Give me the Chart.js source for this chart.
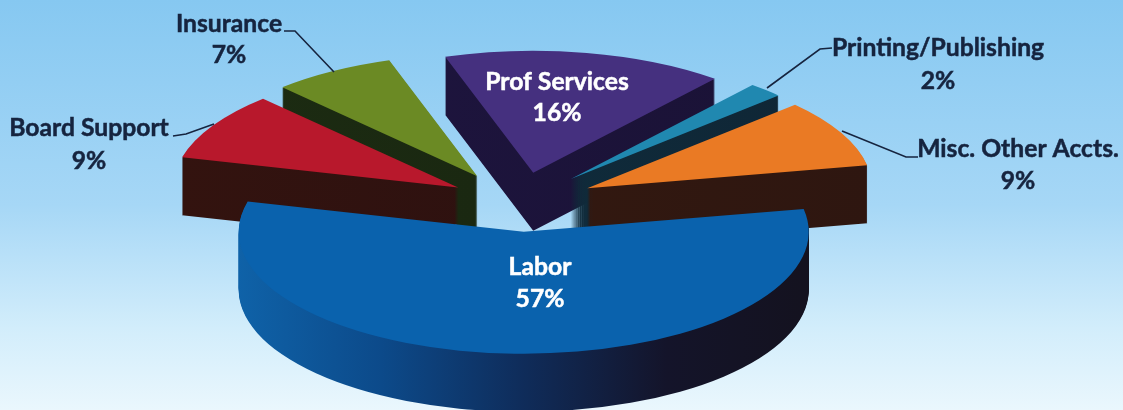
<!DOCTYPE html>
<html>
<head>
<meta charset="utf-8">
<title>Expense pie</title>
<script src="https://cdn.jsdelivr.net/npm/chart.js@4"></script>
<style>
  html, body { margin: 0; padding: 0; }
  body { width: 1123px; height: 410px; overflow: hidden; background: linear-gradient(180deg, #86c8f1 0%, #a6d7f6 50%, #d2edfb 80%, #eaf7fd 100%); }
  #wrap { position: relative; width: 1123px; height: 410px; }
</style>
</head>
<body>
<div id="wrap"><canvas id="pie"></canvas></div>
<script>
const categories = ['Prof Services', 'Printing/Publishing', 'Misc. Other Accts.', 'Labor', 'Board Support', 'Insurance'];
const shares = [16, 2, 9, 57, 9, 7];
const topColors = ['#45307f', '#2088b0', '#ea7a24', '#0a62ad', '#b8182c', '#6b8a24'];
const wallColors = [['#1e1540', '#1a1235'], ['#10303f', '#0f2535'], ['#351a10', '#2e1610'], ['#0f62a8', '#0c4a8a', '#0f2c5a', '#14142a', '#14121f'], ['#33130f', '#2a1010'], ['#1c2c12', '#182410']];
const explode = [60, 80, 71, 72, 80, 78];
const nudgeX = [-5, -11, -3, -1, 0, -10];
const nudgeY = [-1, 5, 3, 2, 6, 6];
const drawOrder = [5, 0, 1, 4, 2, 3]; // back to front

const radius = 285;
const flatten = 0.428;
const wallDepth = 58;
const pieCenter = { x: 527, y: 199 };

// label text placement: [category index, x, y of name, y of percent, colour]
const labelSpots = [
  [0, 557, 82, 113, '#ffffff'],
  [1, 938, 48, 81, '#16243f'],
  [2, 1018, 149, 181, '#16243f'],
  [3, 540, 267, 299, '#ffffff'],
  [4, 89, 128, 161, '#16243f'],
  [5, 229, 24, 55, '#16243f']
];
const leaders = [
  [[832, 48], [820, 49], [767, 88]],
  [[918, 157], [906, 157], [842, 131]],
  [[173, 136], [186, 134], [214, 124]],
  [[284, 31], [295, 31], [334, 72]]
];

function paintArc(ctx, arc, i, fill, dy) {
  const mid = (arc.startAngle + arc.endAngle) / 2;
  const ex = Math.cos(mid) * explode[i] + nudgeX[i];
  const ey = Math.sin(mid) * explode[i] * flatten + nudgeY[i];
  const saved = arc.options;
  arc.options = Object.assign({}, saved, { backgroundColor: fill, borderWidth: 0 });
  ctx.save();
  ctx.translate(pieCenter.x + ex, pieCenter.y + ey + dy);
  ctx.scale(1, flatten);
  ctx.translate(-arc.x, -arc.y);
  arc.draw(ctx);
  ctx.restore();
  arc.options = saved;
}

const slab = {
  id: 'slab',
  beforeDatasetsDraw(chart) {
    const ctx = chart.ctx;
    const arcs = chart.getDatasetMeta(0).data;
    drawOrder.forEach((i) => {
      const arc = arcs[i];
      const g = ctx.createLinearGradient(arc.x - radius, 0, arc.x + radius, 0);
      wallColors[i].forEach((c, n) => g.addColorStop(n / (wallColors[i].length - 1), c));
      for (let d = wallDepth; d > 0; d--) paintArc(ctx, arc, i, g, d);
      paintArc(ctx, arc, i, topColors[i], 0);
    });
    return false;
  },
  afterDraw(chart) {
    const ctx = chart.ctx;
    ctx.save();
    ctx.strokeStyle = '#16243f';
    ctx.lineWidth = 1.6;
    leaders.forEach((pts) => {
      ctx.beginPath();
      pts.forEach((p, n) => (n ? ctx.lineTo(p[0], p[1]) : ctx.moveTo(p[0], p[1])));
      ctx.stroke();
    });
    ctx.font = 'bold 24.7px Lato';
    ctx.textAlign = 'center';
    ctx.textBaseline = 'middle';
    ctx.lineWidth = 0.5;
    labelSpots.forEach(([i, x, y1, y2, color]) => {
      ctx.fillStyle = color;
      ctx.strokeStyle = color;
      [[categories[i], y1], [shares[i] + '%', y2]].forEach(([txt, y]) => {
        ctx.fillText(txt, x, y);
        ctx.strokeText(txt, x, y);
      });
    });
    ctx.restore();
  }
};

new Chart(document.getElementById('pie').getContext('2d'), {
  type: 'pie',
  data: {
    labels: categories,
    datasets: [{ data: shares, backgroundColor: topColors, borderWidth: 0 }]
  },
  options: {
    responsive: true,
    maintainAspectRatio: false,
    animation: false,
    rotation: -18,
    radius: radius,
    layout: { padding: 0 },
    plugins: { legend: { display: false }, tooltip: { enabled: false } }
  },
  plugins: [slab]
});
</script>
</body>
</html>
